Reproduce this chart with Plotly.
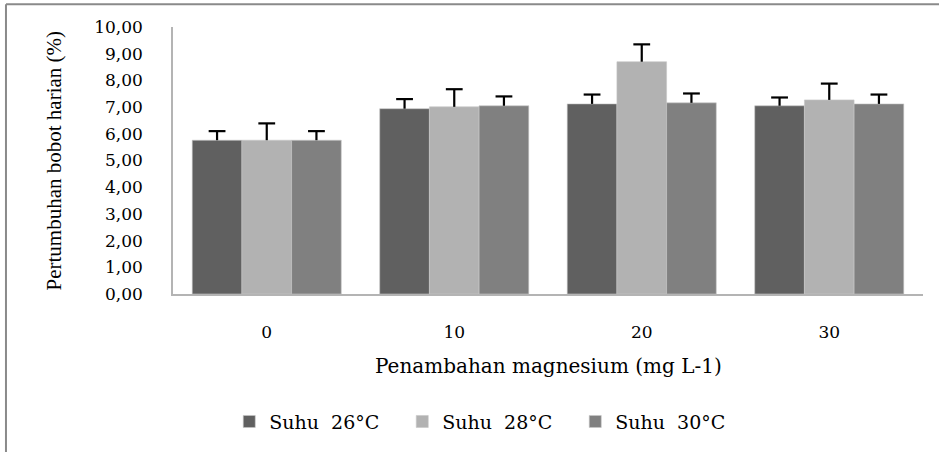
import plotly.graph_objects as go

categories = ["0", "10", "20", "30"]
series_names = ["Suhu\u00a0 26°C", "Suhu\u00a0 28°C", "Suhu\u00a0 30°C"]
suhu26 = [5.76, 6.94, 7.12, 7.05]
suhu28 = [5.76, 7.01, 8.70, 7.27]
suhu30 = [5.76, 7.05, 7.16, 7.12]
err26 = [0.34, 0.36, 0.35, 0.31]
err28 = [0.63, 0.66, 0.65, 0.61]
err30 = [0.34, 0.35, 0.35, 0.35]
colors = ["#606060", "#b2b2b2", "#808080"]
y_tickvals = [0, 1, 2, 3, 4, 5, 6, 7, 8, 9, 10]
y_ticktext = ["0,00", "1,00", "2,00", "3,00", "4,00", "5,00", "6,00", "7,00", "8,00", "9,00", "10,00"]
x_title = "Penambahan magnesium (mg L-1)"
y_title = "Pertumbuhan bobot harian (%)"

FONT = "DejaVu Serif"
fig = go.Figure()
groups = ["g26", "g28", "g30"]
for name, vals, errs, col, grp in zip(series_names, [suhu26, suhu28, suhu30],
                                      [err26, err28, err30], colors, groups):
    fig.add_trace(go.Bar(
        x=categories, y=vals, name=name, offsetgroup=grp,
        marker=dict(color=col, line=dict(color="#c8c8c8", width=0.6)),
    ))
for vals, errs, grp in zip([suhu26, suhu28, suhu30], [err26, err28, err30], groups):
    tops = [v + e for v, e in zip(vals, errs)]
    fig.add_trace(go.Scatter(
        x=categories, y=tops, mode="markers", offsetgroup=grp, showlegend=False,
        hoverinfo="skip",
        marker=dict(symbol="line-ew", size=12, color="#000000",
                    line=dict(color="#000000", width=2.2)),
        error_y=dict(type="data", symmetric=False, array=[0] * len(errs), arrayminus=errs,
                     color="#000000", thickness=2.2, width=0),
    ))

fig.update_layout(
    width=939, height=452,
    margin=dict(l=173, r=16, t=27, b=155),
    paper_bgcolor="white", plot_bgcolor="white",
    barmode="group", bargap=0.205, bargroupgap=0,
    scattermode="group", scattergap=0.205,
    showlegend=True,
    legend=dict(orientation="h", x=0.075, y=-0.478, xanchor="left", yanchor="middle",
                font=dict(family=FONT, size=19, color="#000000"),
                itemwidth=30, traceorder="normal", entrywidth=128, entrywidthmode="pixels"),
    xaxis=dict(showline=True, linecolor="#b4b4b4", linewidth=1.5, showgrid=False,
               ticks="", tickfont=dict(family=FONT, size=17, color="#000000"),
               ticklabelstandoff=22),
    yaxis=dict(range=[0, 10], tickvals=y_tickvals, ticktext=y_ticktext,
               showline=True, linecolor="#b4b4b4", linewidth=1.5, showgrid=False,
               ticks="", zeroline=False,
               tickfont=dict(family=FONT, size=17, color="#000000"),
               ticklabelstandoff=25),
    annotations=[
        dict(text=x_title, xref="paper", yref="paper", x=0.5, y=-0.27,
             xanchor="center", yanchor="middle", showarrow=False,
             font=dict(family=FONT, size=20, color="#000000")),
        dict(text=y_title, xref="paper", yref="paper", x=-0.16, y=0.5,
             xanchor="center", yanchor="middle", textangle=-90, showarrow=False,
             font=dict(family="Liberation Serif", size=21, color="#000000")),
    ],
    shapes=[
        dict(type="line", xref="paper", yref="paper", x0=-0.2227, x1=1.03, y0=1.085, y1=1.085,
             line=dict(color="#8a8a8a", width=2)),
        dict(type="line", xref="paper", yref="paper", x0=-0.2227, x1=-0.2227, y0=1.085, y1=-0.6,
             line=dict(color="#8a8a8a", width=2)),
    ],
)

fig.write_html("out.html", config={"displayModeBar": False},
               post_script="document.body.style.margin='0';")
